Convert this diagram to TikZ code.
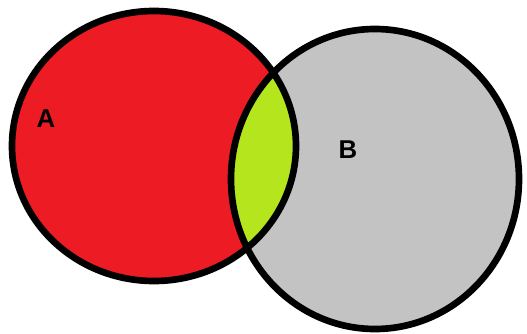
\documentclass[tikz,border=0pt]{standalone}
\usepackage{fontspec}
\setmainfont{Liberation Sans}
\definecolor{setA}{RGB}{237,28,36}
\definecolor{setB}{RGB}{195,195,195}
\definecolor{setAB}{RGB}{181,230,29}
\begin{document}
\begin{tikzpicture}[x=0.03cm, y=-0.03cm, line join=round, line cap=round, font=\fontsize{22}{22}\selectfont\bfseries]
				\useasboundingbox (0,0) rectangle (527,334);
				\fill[setA] (154,146) ellipse [x radius=142, y radius=135];
				\fill[setB] (375,179) ellipse [x radius=144, y radius=150];
				\begin{scope}
					\clip (154,146) ellipse [x radius=142, y radius=135];
					\fill[setAB] (375,179) ellipse [x radius=144, y radius=150];
				\end{scope}
				\draw[line width=0.2cm] (154,146) ellipse [x radius=142, y radius=135] (375,179) ellipse [x radius=144, y radius=150];
				\path (46,119) node(labA){A} (348,150) node(labB){B};
			\end{tikzpicture}
\end{document}
